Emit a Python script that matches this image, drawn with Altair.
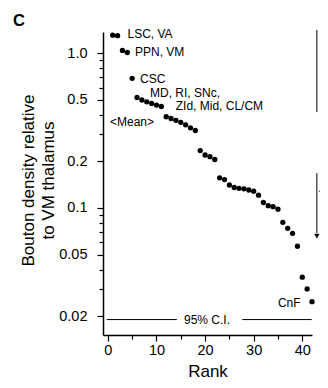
import json
import altair as alt
import pandas as pd

FONT = "Liberation Sans, Arial, Helvetica, sans-serif"

# ---- data ----
ranks = list(range(1, 43))
density = [1.31, 1.30, 1.043, 1.012, 0.689,
           0.518, 0.499, 0.486, 0.474, 0.463, 0.453,
           0.389, 0.379, 0.369, 0.358, 0.345, 0.330, 0.317,
           0.235, 0.220, 0.2146, 0.2058,
           0.1567, 0.1526, 0.1408, 0.1357, 0.1341, 0.1331, 0.1307, 0.1284, 0.1210,
           0.1085, 0.1035, 0.1019, 0.0982,
           0.0808, 0.0739, 0.0686, 0.0566,
           0.0357, 0.0300, 0.0248]

label_text = ["LSC, VA", "PPN, VM", "CSC", "MD, RI, SNc,", "ZId, Mid, CL/CM", "<Mean>"]
label_x = [4.04, 5.58, 6.61, 8.67, 13.96, 0.44]
label_y = [1.323, 1.024, 0.679, 0.550, 0.453, 0.361]

cnf_text = ["CnF"]
cnf_x = [39.66]
cnf_y = [0.0242]

ci_value = 0.0190
ci_start = [-0.24, 27.66]
ci_end = [14.2, 41.94]
ci_text = ["95% C.I."]
ci_text_x = [20.4]

side_x = 43.0
side_text_x = 43.35
side_top = [1.414, 0.168]
side_bottom = [0.4174, 0.0689]
side_text = ["Dense", "Sparse"]
side_text_y = [0.7916, 0.110]
arrow_y = [0.0659]

x_ticks = [0, 5, 10, 15, 20, 25, 30, 35, 40]
y_major = [0.02, 0.05, 0.1, 0.2, 0.5, 1.0]
y_minor = [0.03, 0.04, 0.06, 0.07, 0.08, 0.09, 0.3, 0.4, 0.6, 0.7, 0.8, 0.9]
x_domain = [-1, 42]
y_domain = [0.0151, 1.373]

# ---- tables ----
pts = pd.DataFrame({"rank": ranks, "value": density})
labels = pd.DataFrame({"rank": label_x, "value": label_y, "t": label_text})
cnf = pd.DataFrame({"rank": cnf_x, "value": cnf_y, "t": cnf_text})
ci = pd.DataFrame({"rank": ci_start, "rank2": ci_end, "value": [ci_value] * len(ci_start)})
ci_lab = pd.DataFrame({"rank": ci_text_x, "value": [ci_value], "t": ci_text})
side = pd.DataFrame({"rank": [side_x] * 2, "value": side_top, "value2": side_bottom})
side_lab = pd.DataFrame({"rank": [side_text_x] * 2, "value": side_text_y, "t": side_text})
arrow = pd.DataFrame({"rank": [side_x], "value": arrow_y})

y_test = f"indexof({json.dumps(y_major)}, datum.value) >= 0"
y_vals = sorted(y_major + y_minor)

xscale = alt.Scale(domain=x_domain, nice=False, zero=False)
yscale = alt.Scale(type="log", domain=y_domain, nice=False)

xaxis = alt.Axis(
    title="Rank", values=x_ticks,
    labelExpr="datum.value % 10 === 0 ? datum.value : ''",
    tickSize={"condition": {"test": "datum.value % 10 === 0", "value": 6}, "value": 4},
    grid=False, domainColor="black", domainWidth=1.5, tickColor="black", tickWidth=1.2,
    labelFont=FONT, labelFontSize=14.5, labelColor="black", labelPadding=2,
    titleFont=FONT, titleFontSize=17, titleFontWeight="normal", titleColor="black",
    titleBaseline="alphabetic", titleY=41,
)
yaxis = alt.Axis(
    title=["Bouton density relative", "to VM thalamus"], values=y_vals,
    labelExpr=f"{y_test} ? (datum.value == 1 ? '1.0' : '' + datum.value) : ''",
    tickSize={"condition": {"test": y_test, "value": 6}, "value": 4},
    grid=False, domainColor="black", domainWidth=1.5, tickColor="black", tickWidth=1.2,
    labelFont=FONT, labelFontSize=14.5, labelColor="black", labelPadding=10,
    titleFont=FONT, titleFontSize=17, titleFontWeight="normal", titleColor="black",
    titleBaseline="middle", titleLineHeight=20, titleX=-75, titleY=148,
)


def X(f="rank"):
    return alt.X(f, type="quantitative", scale=xscale, axis=xaxis)


def Y(f="value"):
    return alt.Y(f, type="quantitative", scale=yscale, axis=yaxis)


points = alt.Chart(pts).mark_circle(size=28, color="black", opacity=1).encode(x=X(), y=Y())

lab = alt.Chart(labels).mark_text(align="left", baseline="middle", font=FONT, fontSize=12,
                                  color="black").encode(x=X(), y=Y(), text="t:N")
cnf_l = alt.Chart(cnf).mark_text(align="right", baseline="middle", font=FONT, fontSize=12,
                                 color="black").encode(x=X(), y=Y(), text="t:N")
ci_r = alt.Chart(ci).mark_rule(color="black", strokeWidth=1).encode(
    x=X(), x2=alt.X2("rank2"), y=Y())
ci_t = alt.Chart(ci_lab).mark_text(align="center", baseline="middle", font=FONT, fontSize=12,
                                   color="black").encode(x=X(), y=Y(), text="t:N")
side_r = alt.Chart(side).mark_rule(color="black", strokeWidth=1).encode(
    x=X(), y=Y(), y2=alt.Y2("value2"))
side_t = alt.Chart(side_lab).mark_text(angle=90, align="center", baseline="bottom", font=FONT,
                                       fontSize=13, color="black").encode(x=X(), y=Y(), text="t:N")
arr = alt.Chart(arrow).mark_point(shape="triangle-down", filled=True, size=30, color="black",
                                  opacity=1).encode(x=X(), y=Y())

chart = alt.layer(points, lab, cnf_l, ci_r, ci_t, side_r, side_t, arr).properties(
    width=209, height=303,
    title=alt.TitleParams(text="C", anchor="start", frame="group", dx=-90, dy=16, offset=2,
                          baseline="alphabetic", font=FONT, fontSize=16.5, fontWeight="bold",
                          color="black"),
    autosize=alt.AutoSizeParams(type="none"),
    padding={"left": 95, "top": 24, "right": 8, "bottom": 45},
).configure_view(stroke=None)

chart.save("out.html", embed_options={"renderer": "svg", "actions": False})
